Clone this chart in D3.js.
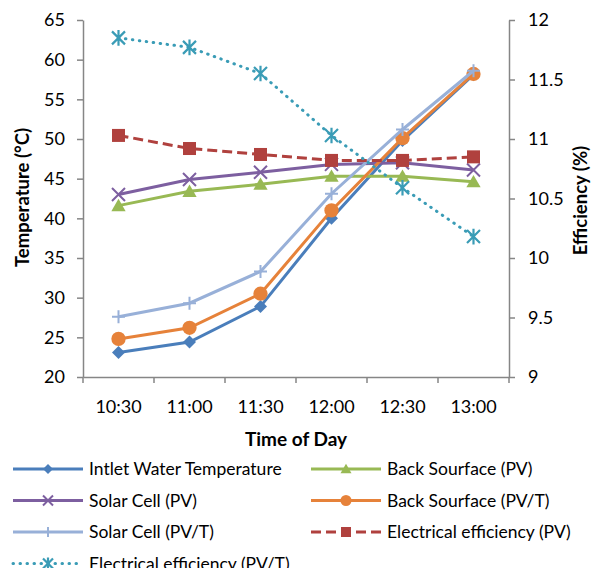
<!DOCTYPE html>
<html lang="en">
<head>
<meta charset="UTF-8">
<title>Temperature and Efficiency</title>
<script src="https://cdn.jsdelivr.net/npm/d3@7"></script>
<style>
    body { margin: 0; background: #fff; }
    text { font-family: Lato, "Open Sans", sans-serif; fill: #000; }
</style>
</head>
<body>
<svg width="596" height="568"></svg>
<script>
    const times = ["10:30", "11:00", "11:30", "12:00", "12:30", "13:00"];
    const inletWater = [23.1, 24.4, 28.9, 40.0, 49.8, 58.1];
    const backPV = [41.6, 43.4, 44.3, 45.3, 45.3, 44.6];
    const cellPV = [43.0, 44.9, 45.8, 46.8, 47.0, 46.1];
    const backPVT = [24.8, 26.2, 30.5, 41.0, 50.1, 58.2];
    const cellPVT = [27.6, 29.3, 33.3, 43.1, 51.2, 58.6];
    const effPV = [11.03, 10.92, 10.87, 10.82, 10.82, 10.85];
    const effPVT = [11.85, 11.77, 11.55, 11.03, 10.59, 10.18];
    const tempTicks = [20, 25, 30, 35, 40, 45, 50, 55, 60, 65];
    const effTicks = [9, 9.5, 10, 10.5, 11, 11.5, 12];

    const series = [
        {name: "Intlet Water Temperature", values: inletWater, axis: "left", color: "#4A7EBB", marker: "diamond", dash: null},
        {name: "Back Sourface (PV)", values: backPV, axis: "left", color: "#98B954", marker: "triangle", dash: null},
        {name: "Solar Cell (PV)", values: cellPV, axis: "left", color: "#7D5FA0", marker: "x", dash: null},
        {name: "Back Sourface (PV/T)", values: backPVT, axis: "left", color: "#E6823A", marker: "circle", dash: null},
        {name: "Solar Cell (PV/T)", values: cellPVT, axis: "left", color: "#98B0D8", marker: "plus", dash: null},
        {name: "Electrical efficiency (PV)", values: effPV, axis: "right", color: "#B0413E", marker: "square", dash: "10,5"},
        {name: "Electrical efficiency (PV/T)", values: effPVT, axis: "right", color: "#3A9CB6", marker: "star", dash: "0.5,6.5"}
    ];

    const svg = d3.select("svg");
    const plotLeft = 83, plotRight = 509, plotTop = 20, plotBottom = 377;
    const axisColor = "#868686";

    const x = d3.scaleBand().domain(times).range([plotLeft, plotRight]);
    const yL = d3.scaleLinear().domain([20, 65]).range([plotBottom, plotTop]);
    const yR = d3.scaleLinear().domain([9, 12]).range([plotBottom, plotTop]);

    function styleAxis(g) {
        g.select(".domain").attr("stroke", axisColor).attr("stroke-width", 1.5);
        g.selectAll(".tick line").attr("stroke", axisColor).attr("stroke-width", 1.5);
        g.selectAll(".tick text").attr("font-size", 18).attr("fill", "#000");
    }

    svg.append("g").attr("transform", `translate(${plotLeft},0)`)
        .call(d3.axisLeft(yL).tickValues(tempTicks).tickSize(6).tickSizeOuter(0).tickPadding(12))
        .call(styleAxis);
    svg.append("g").attr("transform", `translate(${plotRight},0)`)
        .call(d3.axisRight(yR).tickValues(effTicks).tickFormat(d3.format("")).tickSize(6).tickSizeOuter(0).tickPadding(13))
        .call(styleAxis);

    const xg = svg.append("g").attr("transform", `translate(0,${plotBottom})`)
        .call(d3.axisBottom(x).tickSize(0).tickPadding(23))
        .call(styleAxis);
    // tick marks between categories
    xg.selectAll(".sep").data(times.concat(["end"]))
        .enter().append("line")
        .attr("x1", (d, i) => plotLeft + i * x.step()).attr("x2", (d, i) => plotLeft + i * x.step())
        .attr("y1", 0).attr("y2", 6)
        .attr("stroke", axisColor).attr("stroke-width", 1.5);

    svg.append("text").attr("transform", `translate(29,${(plotTop + plotBottom) / 2 - 1}) rotate(-90)`)
        .attr("text-anchor", "middle").attr("font-size", 18.5).attr("font-weight", "bold")
        .text("Temperature (°C)");
    svg.append("text").attr("transform", `translate(587,${(plotTop + plotBottom) / 2 + 2}) rotate(-90)`)
        .attr("text-anchor", "middle").attr("font-size", 18.5).attr("font-weight", "bold")
        .text("Efficiency (%)");
    svg.append("text").attr("x", (plotLeft + plotRight) / 2).attr("y", 446)
        .attr("text-anchor", "middle").attr("font-size", 19).attr("font-weight", "bold")
        .text("Time of Day");

    function drawMarker(g, type, color, s) {
        const h = s / 2;
        if (type === "diamond") {
            g.append("path").attr("d", `M0,${-h}L${h},0L0,${h}L${-h},0Z`).attr("fill", color);
        } else if (type === "triangle") {
            g.append("path").attr("d", `M0,${-h * 1.05}L${h * 1.1},${h * 0.85}L${-h * 1.1},${h * 0.85}Z`).attr("fill", color);
        } else if (type === "circle") {
            g.append("circle").attr("r", h * 1.1).attr("fill", color);
        } else if (type === "square") {
            g.append("rect").attr("x", -h).attr("y", -h).attr("width", s).attr("height", s).attr("fill", color);
        } else if (type === "x") {
            g.append("path").attr("d", `M${-h},${-h}L${h},${h}M${-h},${h}L${h},${-h}`)
                .attr("stroke", color).attr("stroke-width", 2).attr("fill", "none");
        } else if (type === "plus") {
            g.append("path").attr("d", `M${-h},0L${h},0M0,${-h}L0,${h}`)
                .attr("stroke", color).attr("stroke-width", 2).attr("fill", "none");
        } else if (type === "star") {
            g.append("path").attr("d", `M${-h},${-h}L${h},${h}M${-h},${h}L${h},${-h}M0,${-h * 1.2}L0,${h * 1.2}`)
                .attr("stroke", color).attr("stroke-width", 2.2).attr("fill", "none");
        }
    }

    const plot = svg.append("g");
    series.forEach(s => {
        const yScale = s.axis === "left" ? yL : yR;
        const line = d3.line()
            .x((d, i) => x(times[i]) + x.bandwidth() / 2)
            .y(d => yScale(d));
        plot.append("path").datum(s.values)
            .attr("d", line)
            .attr("fill", "none")
            .attr("stroke", s.color)
            .attr("stroke-width", 3)
            .attr("stroke-linecap", s.marker === "star" ? "round" : "butt")
            .attr("stroke-dasharray", s.dash);
        s.values.forEach((v, i) => {
            const g = plot.append("g")
                .attr("transform", `translate(${x(times[i]) + x.bandwidth() / 2},${yScale(v)})`);
            drawMarker(g, s.marker, s.color, 13);
        });
    });

    // legend
    const legend = svg.append("g");
    series.forEach((s, i) => {
        const col = i % 2, row = Math.floor(i / 2);
        const lx = col === 0 ? 13 : 311;
        const ly = 469 + row * 31.5;
        const g = legend.append("g").attr("transform", `translate(${lx},${ly})`);
        g.append("line").attr("x1", 0).attr("x2", 70).attr("y1", 0).attr("y2", 0)
            .attr("stroke", s.color).attr("stroke-width", 3)
            .attr("stroke-linecap", s.marker === "star" ? "round" : "butt")
            .attr("stroke-dasharray", s.dash);
        const m = g.append("g").attr("transform", "translate(35,0)");
        drawMarker(m, s.marker, s.color, 10);
        g.append("text").attr("x", 76).attr("y", 0).attr("dy", "0.35em")
            .attr("font-size", 17.5).text(s.name);
    });
</script>
</body>
</html>
